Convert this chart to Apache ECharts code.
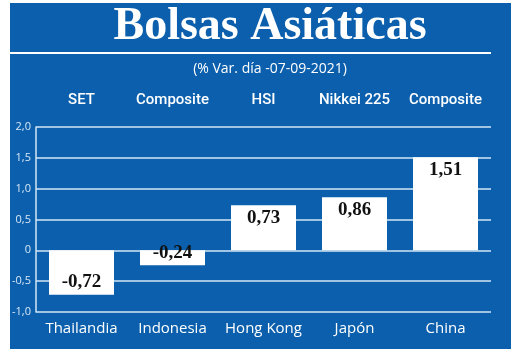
<!DOCTYPE html>
<html>
<head>
<meta charset="utf-8">
<script src="https://cdn.jsdelivr.net/npm/echarts@6/dist/echarts.min.js"></script>
<style>
  html, body { margin: 0; padding: 0; background: #fff; }
  #chart { width: 520px; height: 353px; }
</style>
</head>
<body>
<div id="chart"></div>
<script>
// data
const countries = ['Thailandia', 'Indonesia', 'Hong Kong', 'Japón', 'China'];
const indices = ['SET', 'Composite', 'HSI', 'Nikkei 225', 'Composite'];
const variation = [-0.72, -0.24, 0.73, 0.86, 1.51];

const blue = '#0b5fac';
const gridColor = '#d3e6f6';

function fmt(v) {
    if (v === 0) return '0';
    return v.toFixed(1).replace('.', ',');
}

const chart = echarts.init(document.getElementById('chart'));
chart.setOption({
    backgroundColor: '#fff',
    animation: false,
    graphic: [
        {
            type: 'rect',
            z: -10,
            shape: { x: 10, y: 3, width: 501, height: 346 },
            style: { fill: blue }
        },
        {
            type: 'line',
            shape: { x1: 10, y1: 53, x2: 491, y2: 53 },
            style: { stroke: '#ffffff', lineWidth: 2 }
        },
        {
            type: 'text',
            x: 270, y: 27,
            style: {
                text: 'Bolsas Asiáticas',
                fill: '#fff',
                font: 'bold 46px "Liberation Serif", "DejaVu Serif", serif',
                textAlign: 'center',
                textVerticalAlign: 'middle'
            }
        },
        {
            type: 'text',
            x: 270, y: 69,
            style: {
                text: '(% Var. día -07-09-2021)',
                fill: '#fff',
                font: '14px "Open Sans", sans-serif',
                textAlign: 'center',
                textVerticalAlign: 'middle'
            }
        }
    ],
    grid: { left: 36, right: 29, top: 127, bottom: 41 },
    xAxis: [
        {
            type: 'category',
            data: countries,
            position: 'bottom',
            axisLine: { show: false },
            axisTick: { show: false },
            axisLabel: { interval: 0, color: '#fff', fontSize: 15, fontFamily: 'Open Sans', margin: 9 }
        },
        {
            type: 'category',
            data: indices,
            position: 'top',
            axisLine: { show: false },
            axisTick: { show: false },
            axisLabel: {
                interval: 0,
                color: '#fff', fontSize: 15, fontWeight: 500,
                fontFamily: 'Roboto',
                margin: 19
            }
        }
    ],
    yAxis: {
        type: 'value',
        min: -1, max: 2, interval: 0.5,
        axisLine: { show: true, lineStyle: { color: gridColor, width: 1.5 } },
        axisTick: { show: false },
        splitLine: { lineStyle: { color: gridColor, width: 1.5 } },
        axisLabel: {
            color: '#d8e8f6', fontSize: 11, fontFamily: 'Open Sans', margin: 5,
            formatter: fmt
        }
    },
    series: [{
        type: 'bar',
        barWidth: 65,
        itemStyle: { color: '#fff' },
        data: variation.map(v => ({
            value: v,
            label: { position: v < 0 ? 'insideBottom' : 'insideTop' }
        })),
        label: {
            show: true,
            distance: 3,
            color: '#111',
            fontSize: 19,
            fontWeight: 'bold',
            fontFamily: '"Liberation Serif", serif',
            formatter: p => p.value.toFixed(2).replace('.', ',')
        }
    }]
});
</script>
</body>
</html>
